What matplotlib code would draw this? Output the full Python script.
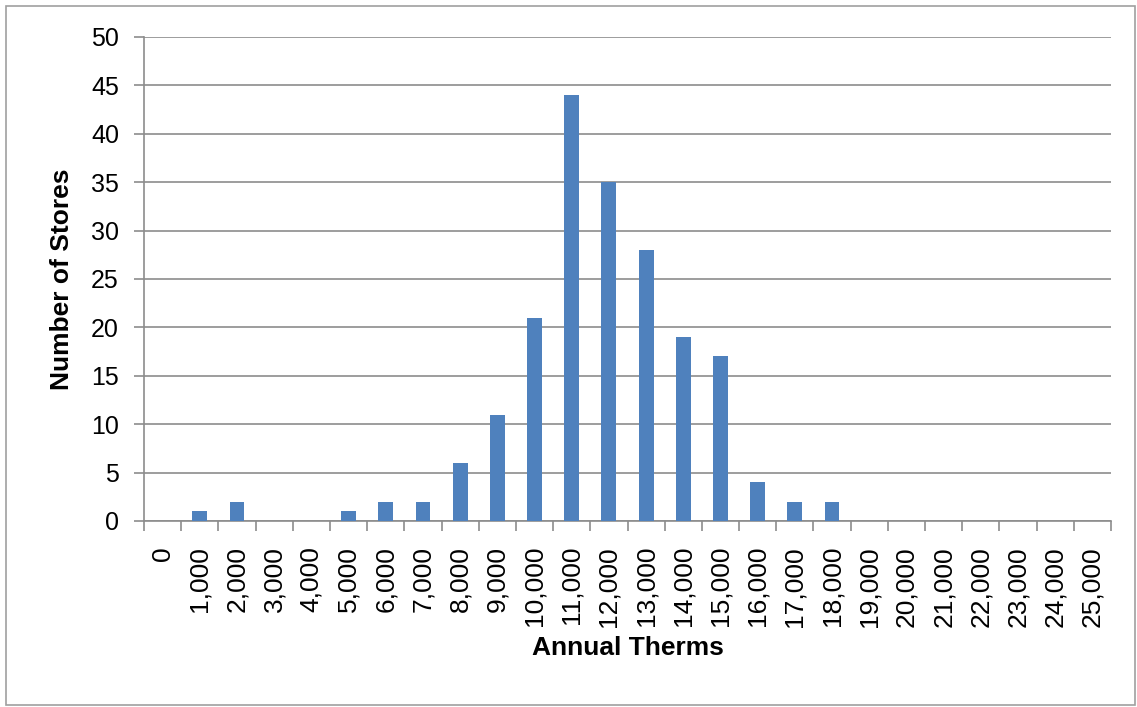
import matplotlib
matplotlib.use("Agg")
import matplotlib.pyplot as plt
from matplotlib.patches import Rectangle

categories = ["0", "1,000", "2,000", "3,000", "4,000", "5,000", "6,000", "7,000",
              "8,000", "9,000", "10,000", "11,000", "12,000", "13,000", "14,000",
              "15,000", "16,000", "17,000", "18,000", "19,000", "20,000", "21,000",
              "22,000", "23,000", "24,000", "25,000"]
stores = [0, 1, 2, 0, 0, 1, 2, 2, 6, 11, 21, 44, 35, 28, 19, 17, 4, 2, 2,
          0, 0, 0, 0, 0, 0, 0]
y_ticks = [0, 5, 10, 15, 20, 25, 30, 35, 40, 45, 50]

plt.rcParams['font.family'] = ['Liberation Sans', 'DejaVu Sans']

fig = plt.figure(figsize=(11.37, 7.07), dpi=100)
fig.patches.append(Rectangle((6/1137, 2/707), 1 - 8/1137, 1 - 8/707,
                             transform=fig.transFigure, fill=False,
                             edgecolor="#a0a0a0", linewidth=1.2))
ax = fig.add_axes([144/1137, 1 - 521/707, (1111 - 144)/1137, (521 - 37)/707])

x = list(range(len(categories)))
ax.bar(x, stores, width=0.4, color="#4f81bd", zorder=3)

ax.set_xlim(-0.5, len(categories) - 0.5)
ax.set_ylim(0, 50)
ax.set_yticks(y_ticks)
ax.yaxis.grid(True, color="#8c8c8c", linewidth=1.2, zorder=0)
ax.set_axisbelow(True)

ax.set_xticks([i - 0.5 for i in range(len(categories) + 1)])
ax.set_xticklabels([])
ax.set_xticks(x, minor=True)
ax.set_xticklabels(categories, minor=True, rotation=90, fontsize=19)
ax.tick_params(axis="x", which="major", length=7, color="#8c8c8c", width=1.2)
ax.tick_params(axis="x", which="minor", length=0, pad=18)
ax.tick_params(axis="y", length=7, color="#8c8c8c", width=1.2, labelsize=18, pad=11)

for s in ["top", "right"]:
    ax.spines[s].set_visible(False)
for s in ["left", "bottom"]:
    ax.spines[s].set_color("#8c8c8c")
    ax.spines[s].set_linewidth(1.2)

ax.set_ylabel("Number of Stores", fontsize=19, fontweight="bold", labelpad=12)
ax.set_xlabel("Annual Therms", fontsize=19, fontweight="bold", labelpad=7)

fig.savefig("out.png", dpi=100)
